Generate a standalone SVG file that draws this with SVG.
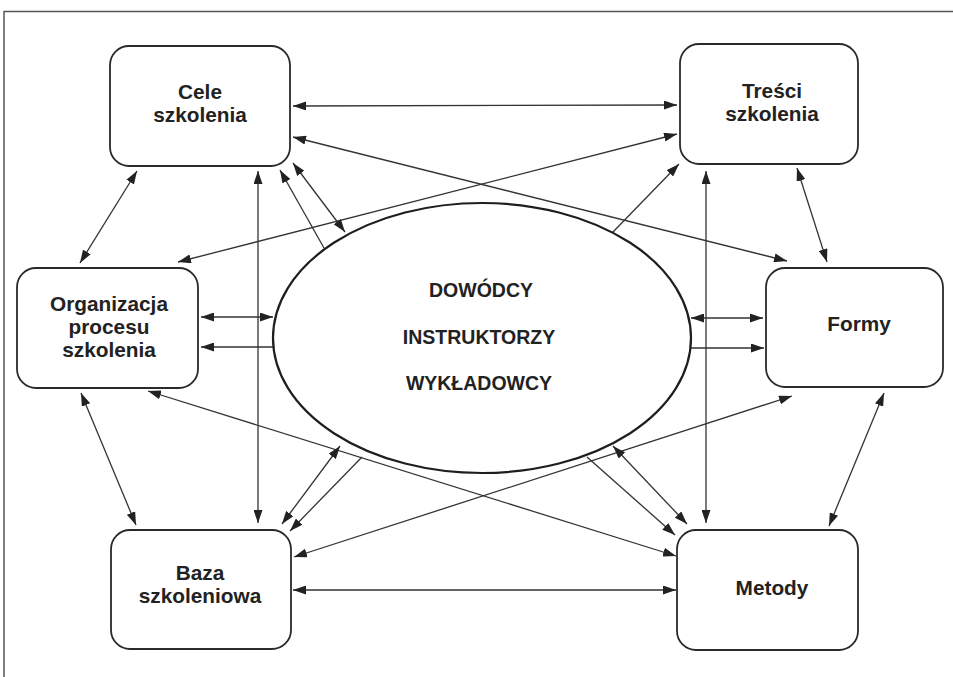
<svg xmlns="http://www.w3.org/2000/svg" width="953" height="677" viewBox="0 0 953 677">
<style>
.box{fill:#fff;stroke:#2a2a2a;stroke-width:1.8}
.ell{fill:#fff;stroke:#1e1e1e;stroke-width:2.2}
.lbl{font-family:"Liberation Sans",Arial,sans-serif;font-weight:bold;font-size:20.8px;fill:#222;text-anchor:middle}
.big{font-size:19.5px}
.c{fill:none;stroke:#333;stroke-width:1.3}
.both{marker-start:url(#ah);marker-end:url(#ah)}
.one{marker-end:url(#ah)}
.frame{fill:none;stroke:#555;stroke-width:1.5}
</style>
<defs>
<marker id="ah" viewBox="0 0 13 9" refX="13" refY="4.5" markerWidth="13" markerHeight="9" markerUnits="userSpaceOnUse" orient="auto-start-reverse">
<path d="M0,0 L13,4.5 L0,9 z" fill="#222"/>
</marker>
</defs>
<rect width="953" height="677" fill="#fff"/>
<path class="frame" d="M4,677 L4,11.5 L953,11.5"/>

<g id="connectors">
<path class="c both" d="M293,106 L677,105"/>
<path class="c both" d="M293,137 L787,261"/>
<path class="c both" d="M677,134 L178,262"/>
<path class="c both" d="M137,171 L80,263"/>
<path class="c both" d="M797,168 L827,262"/>
<path class="c both" d="M81,393 L136,525"/>
<path class="c both" d="M884,393 L829,526"/>
<path class="c both" d="M293,590 L676,590"/>
<path class="c both" d="M148,391 L676,556"/>
<path class="c both" d="M294,557 L792,396"/>
<path class="c both" d="M258,171 L258,523"/>
<path class="c both" d="M706,171 L706,523"/>
<path class="c both" d="M201,317 L273,317"/>
<path class="c one" d="M273,347 L201,347"/>
<path class="c both" d="M691,318 L763,318"/>
<path class="c one" d="M690,348 L764,348"/>
<path class="c one" d="M324,248 L280,170"/>
<path class="c both" d="M293,163 L345,232"/>
<path class="c one" d="M612,233 L679,164"/>
<path class="c both" d="M340,446 L282,524"/>
<path class="c one" d="M362,457 L290,531"/>
<path class="c both" d="M613,446 L687,524"/>
<path class="c one" d="M587,457 L675,535"/>
</g>

<g id="center">
<path class="ell" d="M273,338 A209,135 0 1 1 691,338 A209,135 0 1 1 273,338 Z" fill="none"/>
<text class="lbl big" x="481" y="297">DOWÓDCY</text>
<text class="lbl big" x="479" y="344">INSTRUKTORZY</text>
<text class="lbl big" x="479" y="390">WYKŁADOWCY</text>
</g>

<g id="cele">
<rect class="box" x="110" y="46" width="180" height="120" rx="19"/>
<text class="lbl" x="200" y="99">Cele</text>
<text class="lbl" x="200" y="122">szkolenia</text>
</g>

<g id="tresci">
<rect class="box" x="680" y="44" width="178" height="120" rx="19"/>
<text class="lbl" x="772" y="98">Treści</text>
<text class="lbl" x="772" y="121">szkolenia</text>
</g>

<g id="organizacja">
<rect class="box" x="17" y="268" width="181" height="120" rx="19"/>
<text class="lbl" x="109" y="311">Organizacja</text>
<text class="lbl" x="109" y="334">procesu</text>
<text class="lbl" x="109" y="357">szkolenia</text>
</g>

<g id="formy">
<rect class="box" x="766" y="268" width="177" height="119" rx="19"/>
<text class="lbl" x="859" y="331">Formy</text>
</g>

<g id="baza">
<rect class="box" x="111" y="530" width="180" height="119" rx="19"/>
<text class="lbl" x="200" y="580">Baza</text>
<text class="lbl" x="200" y="603">szkoleniowa</text>
</g>

<g id="metody">
<rect class="box" x="677" y="530" width="181" height="120" rx="19"/>
<text class="lbl" x="772" y="595">Metody</text>
</g>
</svg>
